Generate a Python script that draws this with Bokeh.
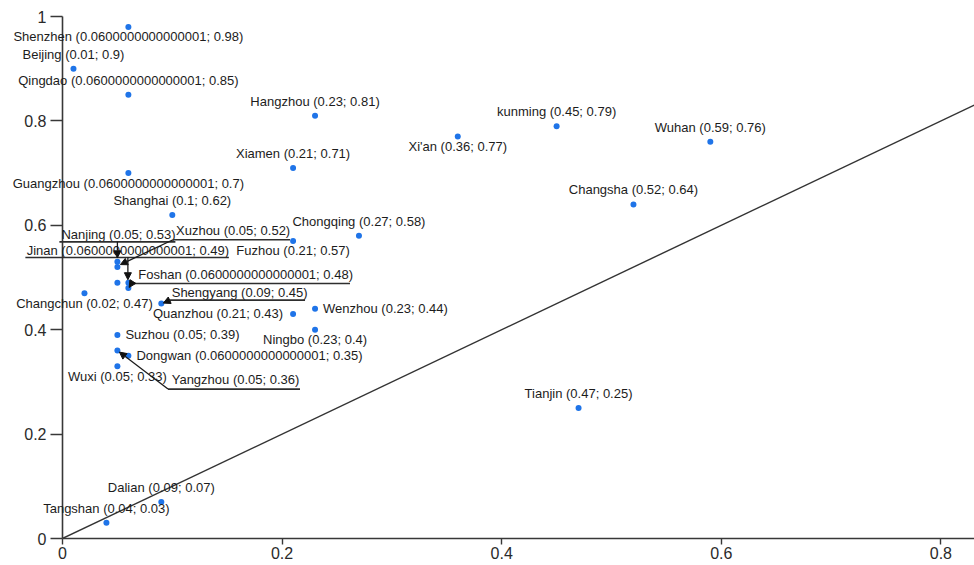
from bokeh.plotting import figure
from bokeh.layouts import row
from bokeh.models import (Range1d, FixedTicker, NumeralTickFormatter, ColumnDataSource,
                          Slope, Arrow, NormalHead)
from bokeh.core.properties import value
from bokeh.embed import file_html
from bokeh.resources import INLINE

# --- data -----------------------------------------------------------------
cities = ["Shenzhen", "Beijing", "Qingdao", "Hangzhou", "Xiamen", "Xi'an", "kunming", "Wuhan",
          "Guangzhou", "Shanghai", "Changsha", "Chongqing", "Fuzhou", "Nanjing", "Xuzhou",
          "Jinan", "Foshan", "", "Changchun", "Shengyang", "Quanzhou", "Wenzhou", "Ningbo",
          "Suzhou", "Dongwan", "Yangzhou", "Wuxi", "Tianjin", "Dalian", "Tangshan"]
x_vals = [0.0600000000000001, 0.01, 0.0600000000000001, 0.23, 0.21, 0.36, 0.45, 0.59,
          0.0600000000000001, 0.1, 0.52, 0.27, 0.21, 0.05, 0.05,
          0.0600000000000001, 0.0600000000000001, 0.05, 0.02, 0.09, 0.21, 0.23, 0.23,
          0.05, 0.0600000000000001, 0.05, 0.05, 0.47, 0.09, 0.04]
y_vals = [0.98, 0.9, 0.85, 0.81, 0.71, 0.77, 0.79, 0.76,
          0.7, 0.62, 0.64, 0.58, 0.57, 0.53, 0.52,
          0.49, 0.48, 0.49, 0.47, 0.45, 0.43, 0.44, 0.4,
          0.39, 0.35, 0.36, 0.33, 0.25, 0.07, 0.03]
x_ticks = [0, 0.2, 0.4, 0.6, 0.8]
y_ticks = [0, 0.2, 0.4, 0.6, 0.8, 1]

# --- label layout (screen pixels relative to each point, +y downwards) -----
placement = {
    "Shenzhen": "below", "Beijing": "above", "Qingdao": "above", "Hangzhou": "above",
    "Xiamen": "above", "Xi'an": "below", "kunming": "above", "Wuhan": "above",
    "Guangzhou": "below", "Shanghai": "above", "Changsha": "above", "Chongqing": "above",
    "Fuzhou": "below", "Changchun": "below", "Quanzhou": "left", "Wenzhou": "right",
    "Ningbo": "below", "Suzhou": "right", "Dongwan": "right", "Wuxi": "below",
    "Tianjin": "above", "Dalian": "above", "Tangshan": "above",
}
side_offsets = {"above": (0, -14.5), "below": (0, 10), "right": (8, -0.5), "left": (-10, -1)}
side_align = {"above": "center", "below": "center", "right": "left", "left": "right"}
# callout: text start, underline (x0, x1, y), leader (start -> end)
callouts = {
    "Nanjing":   dict(text=(-56, -27.5), ul=(-58, 58, -20), lead=((0, -20), (0, -4))),
    "Xuzhou":    dict(text=(58.6, -36.3), ul=(55.6, 172.6, -27.3), lead=((55.6, -27.3), (3, -2.5))),
    "Jinan":     dict(text=(-101.7, -32.4), ul=(-103, 100.5, -25.2), lead=((-0.5, -25.2), (-0.5, -3))),
    "Foshan":    dict(text=(9.9, -13.2), ul=(3.3, 221.6, -4.5), lead=((3.3, -4.5), (0.8, -0.5))),
    "Shengyang": dict(text=(10.4, -11.3), ul=(8.7, 143.7, -3.5), lead=((8.7, -3.5), (2, -0.5))),
    "Yangzhou":  dict(text=(54.3, 29.2), ul=(50.6, 182.6, 38.5), lead=((50.6, 38.5), (2, 1.5))),
}

# --- geometry ----------------------------------------------------------------
W, H = 974, 565
LEFT, BOTTOM = 62, 27
FRAME_W, FRAME_H = W - LEFT, H - BOTTOM
X_END, Y_END = 0.8306, 1.0307
PXX = FRAME_W / X_END
PXY = FRAME_H / Y_END


def to_data(x, y, dx, dy):
    return x + dx / PXX, y - dy / PXY


# base plot: axes, reference line and points
p = figure(width=W, height=H, x_range=Range1d(0, X_END), y_range=Range1d(0, Y_END),
           output_backend="svg", toolbar_location=None,
           min_border_left=LEFT, min_border_right=0, min_border_top=0, min_border_bottom=BOTTOM)
p.outline_line_color = None
p.grid.visible = False
p.background_fill_color = "white"
p.border_fill_color = "white"

for ax, ticks in ((p.xaxis, x_ticks), (p.yaxis, y_ticks)):
    ax.ticker = FixedTicker(ticks=ticks)
    ax.formatter = NumeralTickFormatter(format="0.[0]")
    ax.minor_tick_line_color = None
    ax.major_tick_in = 0
    ax.axis_line_color = "#383838"
    ax.axis_line_width = 1.6
    ax.major_tick_line_color = "#383838"
    ax.major_tick_line_width = 1.4
    ax.major_label_text_font = "Liberation Sans"
    ax.major_label_text_font_size = "16px"
    ax.major_label_text_color = "#2a2a2a"
p.xaxis.major_tick_out = 6
p.xaxis.major_label_standoff = 2
p.xaxis.bounds = (0, X_END)
p.yaxis.major_tick_out = 12
p.yaxis.major_label_standoff = 4
p.yaxis.bounds = (0, 1)

# y = x reference line
p.add_layout(Slope(gradient=1, y_intercept=0, line_color="#333333", line_width=1.4))

# data points
p.scatter(x=x_vals, y=y_vals, size=6, fill_color="#1f74e8", line_color=None)

# transparent overlay whose frame starts at the canvas' left edge, so that point
# labels may run over the axis margin just like in a smart-label layout
ov = figure(width=W, height=H, x_range=Range1d(-LEFT / PXX, X_END),
            y_range=Range1d(0, Y_END), x_axis_type=None, y_axis_type=None,
            output_backend="svg", toolbar_location=None,
            min_border_left=0, min_border_right=0, min_border_top=0, min_border_bottom=BOTTOM)
ov.outline_line_color = None
ov.background_fill_color = None
ov.border_fill_color = None
ov.margin = (0, 0, 0, -W)

groups = {"center": dict(tx=[], ty=[], t=[]), "left": dict(tx=[], ty=[], t=[]),
          "right": dict(tx=[], ty=[], t=[])}
ul = dict(x0=[], y0=[], x1=[], y1=[])
arr = dict(x_start=[], y_start=[], x_end=[], y_end=[])
for name, x, y in zip(cities, x_vals, y_vals):
    if not name:
        continue
    label = f"{name} ({x!r}; {y!r})"
    if name in callouts:
        c = callouts[name]
        tx, ty = to_data(x, y, *c["text"])
        groups["left"]["tx"].append(tx)
        groups["left"]["ty"].append(ty)
        groups["left"]["t"].append(label)
        ux0, uy = to_data(x, y, c["ul"][0], c["ul"][2])
        ux1, _ = to_data(x, y, c["ul"][1], c["ul"][2])
        ul["x0"].append(ux0); ul["x1"].append(ux1); ul["y0"].append(uy); ul["y1"].append(uy)
        (sdx, sdy), (edx, edy) = c["lead"]
        sx, sy = to_data(x, y, sdx, sdy)
        ex, ey = to_data(x, y, edx, edy)
        arr["x_start"].append(sx); arr["y_start"].append(sy)
        arr["x_end"].append(ex); arr["y_end"].append(ey)
        continue
    side = placement[name]
    tx, ty = to_data(x, y, *side_offsets[side])
    key = side_align[side]
    groups[key]["tx"].append(tx)
    groups[key]["ty"].append(ty)
    groups[key]["t"].append(label)

for align, g in groups.items():
    ov.text(x="tx", y="ty", text="t", source=ColumnDataSource(g), text_align=align,
            text_baseline="alphabetic", text_font=value("Liberation Sans"),
            text_font_size="13px", text_color="#1c1c1c")

ov.segment(x0="x0", y0="y0", x1="x1", y1="y1", source=ColumnDataSource(ul),
           line_color="#2e2e2e", line_width=1.6)
ov.add_layout(Arrow(end=NormalHead(size=7, fill_color="#111111", line_color="#111111", line_width=1),
                    source=ColumnDataSource(arr), x_start="x_start", y_start="y_start",
                    x_end="x_end", y_end="y_end", line_color="#1a1a1a", line_width=1.3))

layout = row(p, ov, spacing=0)
open("out.html", "w").write(file_html(layout, INLINE))
